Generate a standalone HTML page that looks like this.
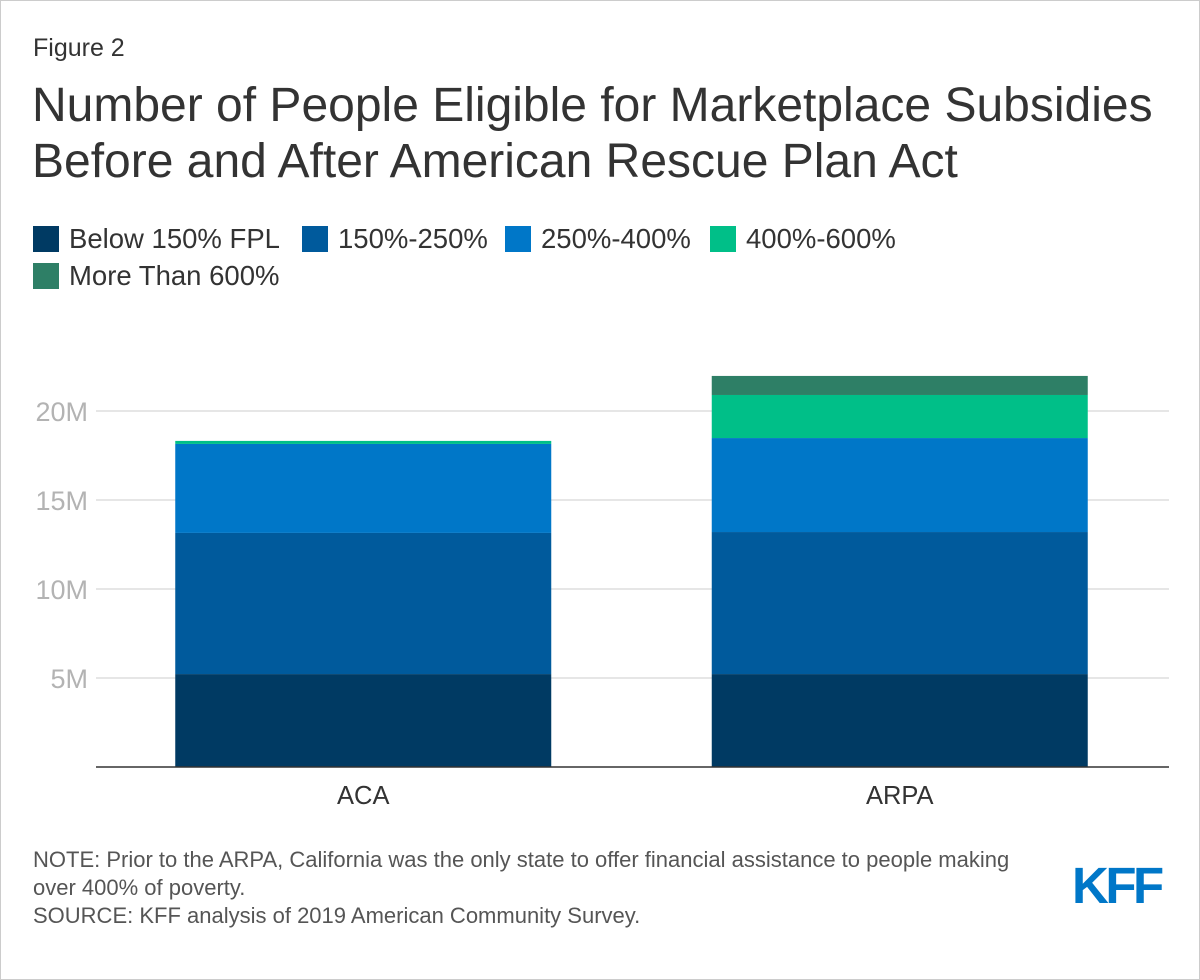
<!DOCTYPE html>
<html><head><meta charset="utf-8"><style>
body{margin:0;background:#fff;font-family:"Liberation Sans",Arial,sans-serif;}
#wrap{position:relative;width:1198px;height:978px;border:1px solid #ccc;background:#fff;overflow:hidden}
.t{position:absolute;white-space:nowrap}
.leg{position:absolute;font-size:27.5px;color:#333;display:flex;align-items:center}
.leg i{display:inline-block;width:26px;height:26px;margin-right:10px}
</style></head><body>
<div id="wrap">
<div class="t" style="left:32px;top:33px;font-size:25px;color:#333">Figure 2</div>
<div class="t" style="left:31px;top:77px;font-size:48px;line-height:56px;color:#333">Number of People Eligible for Marketplace Subsidies<br>Before and After American Rescue Plan Act</div>
<div class="leg" style="left:32px;top:222px"><i style="background:#003a63"></i>Below 150% FPL</div>
<div class="leg" style="left:301px;top:222px"><i style="background:#005a9c"></i>150%-250%</div>
<div class="leg" style="left:504px;top:222px"><i style="background:#0077c8"></i>250%-400%</div>
<div class="leg" style="left:709px;top:222px"><i style="background:#00bf88"></i>400%-600%</div>
<div class="leg" style="left:32px;top:259px"><i style="background:#2e7f66"></i>More Than 600%</div>
<svg id="chart" width="1200" height="980" style="position:absolute;left:0;top:0"></svg>
<div class="t" style="left:32px;top:845px;font-size:22px;line-height:28px;color:#555">NOTE: Prior to the ARPA, California was the only state to offer financial assistance to people making<br>over 400% of poverty.<br>SOURCE: KFF analysis of 2019 American Community Survey.</div>
<div class="t" style="left:1071px;top:855px;font-size:51px;font-weight:bold;color:#0077c8;letter-spacing:-3.5px">KFF</div>
</div>
<script>
const categories=["ACA","ARPA"];
const seriesNames=["Below 150% FPL","150%-250%","250%-400%","400%-600%","More Than 600%"];
const below150=[5.22,5.22];
const fpl150to250=[7.93,7.98];
const fpl250to400=[5.0,5.28];
const fpl400to600=[0.17,2.42];
const over600=[0,1.07];
const yTicks=[5,10,15,20];
const yTickLabels=["5M","10M","15M","20M"];
const colors=["#003a63","#005a9c","#0077c8","#00bf88","#2e7f66"];
const NS="http://www.w3.org/2000/svg";
const svg=document.getElementById("chart");
const x0=95,x1=1168,y0=766,pxPerM=17.8;
const y=v=>y0-v*pxPerM;
const band=(x1-x0)/categories.length;
const barW=376;
const bx=i=>x0+band*i+(band-barW)/2-1;
function mk(tag,attrs){const e=document.createElementNS(NS,tag);for(const k in attrs)e.setAttribute(k,attrs[k]);svg.appendChild(e);return e;}
yTicks.forEach((t,i)=>{
  const g=mk("line",{x1:x0,x2:x1,y1:y(t),y2:y(t),stroke:"#e6e6e6","stroke-width":2});
  
  
  const l=mk("text",{x:x0-8,y:y(t)+10,"text-anchor":"end","font-size":27,fill:"#b3b3b3","font-family":"Liberation Sans, sans-serif"});
  l.textContent=yTickLabels[i];
  
  
});
const series=[below150,fpl150to250,fpl250to400,fpl400to600,over600];
categories.forEach((c,i)=>{
  let acc=0;
  series.forEach((s,k)=>{
    const v=s[i]; if(v<=0)return;
    const r=mk("rect",{x:bx(i),width:barW,y:y(acc+v),height:v*pxPerM,fill:colors[k]});
    
    
    acc+=v;
  });
  const t=mk("text",{x:bx(i)+barW/2,y:803,"text-anchor":"middle","font-size":25.5,fill:"#333","font-family":"Liberation Sans, sans-serif"});
  t.textContent=c;
  
  
});
const ax=mk("line",{x1:x0,x2:x1,y1:y0,y2:y0,stroke:"#333","stroke-width":1.5});


</script>
</body></html>
